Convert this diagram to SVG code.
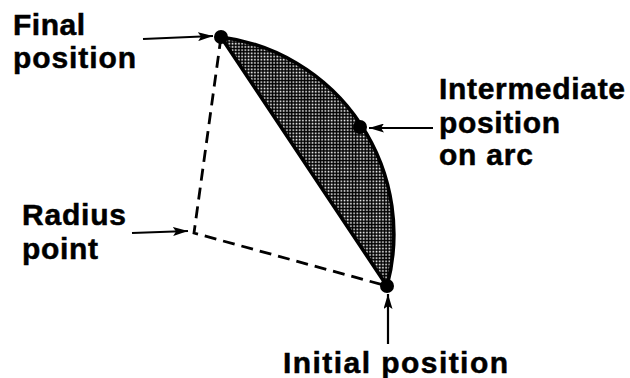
<svg xmlns="http://www.w3.org/2000/svg" width="630" height="378" viewBox="0 0 630 378">
<style>
.lbl{font-family:"Liberation Sans",Arial,sans-serif;font-weight:bold;font-size:30px;fill:#000;stroke:#000;stroke-width:0.5}
.arr{stroke:#000;stroke-width:2.2;fill:none;marker-end:url(#ah)}
.dash{stroke:#000;stroke-width:2.8;fill:none;stroke-dasharray:12 7}
.dot{fill:#000}
</style>
<defs>
<pattern id="hatch" width="3.2" height="3.2" patternUnits="userSpaceOnUse">
<rect width="3.2" height="3.2" fill="#000"/>
<rect x="1.3" y="1.3" width="1.6" height="1.6" fill="#fff"/>
</pattern>
<marker id="ah" viewBox="0 0 15 9" refX="15" refY="4.5" markerWidth="15" markerHeight="9" markerUnits="userSpaceOnUse" orient="auto">
<path d="M0,0 L15,4.5 L0,9 L3,4.5 Z" fill="#000"/>
</marker>
</defs>
<rect width="630" height="378" fill="#fff"/>
<g id="segment">
<path d="M221,37 A199,199 0 0 1 387,286 Z" fill="url(#hatch)" stroke="#000" stroke-width="3.6" stroke-linejoin="round"/>
</g>
<g id="connectors">
<path class="dash" d="M221,37 L194,233 L387,286"/>
<path class="arr" d="M143,39 L213,36"/>
<path class="arr" d="M132,233 L188,231"/>
<path class="arr" d="M433,128 L369,128"/>
<path class="arr" d="M388,344 L388,294"/>
</g>
<g id="final">
<circle class="dot" cx="221" cy="37" r="7"/>
<text class="lbl" x="13" y="35" textLength="72" lengthAdjust="spacing">Final</text>
<text class="lbl" x="13" y="68" textLength="123" lengthAdjust="spacing">position</text>
</g>
<g id="intermediate">
<circle class="dot" cx="360" cy="127" r="7"/>
<text class="lbl" x="439" y="99" textLength="186" lengthAdjust="spacing">Intermediate</text>
<text class="lbl" x="439" y="133" textLength="121" lengthAdjust="spacing">position</text>
<text class="lbl" x="439" y="165" textLength="94" lengthAdjust="spacing">on arc</text>
</g>
<g id="radius">
<text class="lbl" x="22" y="225" textLength="104" lengthAdjust="spacing">Radius</text>
<text class="lbl" x="22" y="259" textLength="76" lengthAdjust="spacing">point</text>
</g>
<g id="initial">
<circle class="dot" cx="387" cy="286" r="7"/>
<text class="lbl" x="283" y="373" textLength="225" lengthAdjust="spacing">Initial position</text>
</g>
</svg>
